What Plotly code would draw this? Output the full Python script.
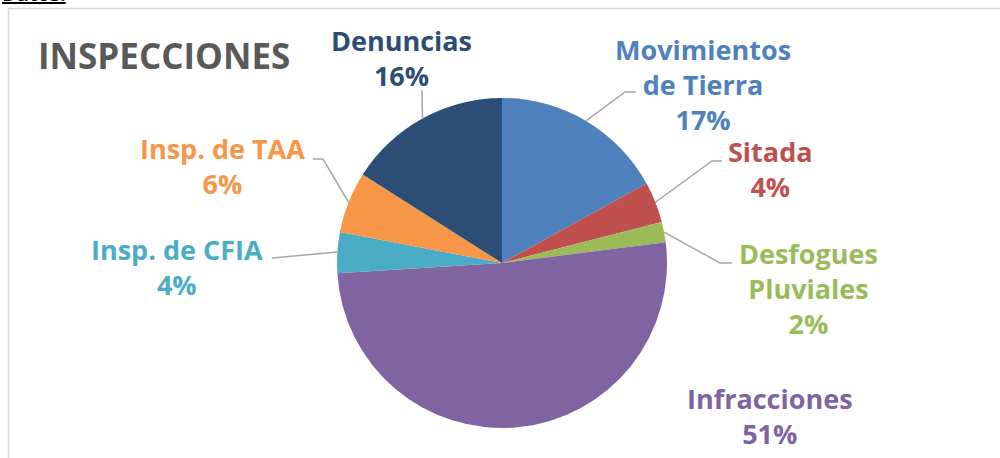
import math
import plotly.graph_objects as go

# ---- data ----
categories = ["Movimientos<br>de Tierra", "Sitada", "Desfogues<br>Pluviales",
              "Infracciones", "Insp. de CFIA", "Insp. de TAA", "Denuncias"]
values = [17, 4, 2, 51, 4, 6, 16]
colors = ["#4F81BD", "#C0504D", "#9BBB59", "#8064A2", "#4BACC6", "#F79646", "#2C4D75"]

# ---- layout constants (pixels) ----
W, H = 1000, 458
CX, CY, R = 502, 263, 165
# label centre positions
label_pos = [(703, 85), (770, 169), (808, 288), (770, 416), (177, 267), (222, 166), (401, 58)]
# leader elbow and end points (None = no leader)
leaders = [
    [(625, 92), (636, 92)],
    [(712, 161), (722, 161)],
    [(720, 263), (732, 263)],
    None,
    [(337, 252), (272, 258)],
    [(323, 159), (313, 159)],
    [(422, 90)],
]

def px(x, y):
    return x / W, 1 - y / H

fig = go.Figure()
fig.add_trace(go.Pie(
    labels=categories, values=values, sort=False, direction="clockwise", rotation=0,
    marker=dict(colors=colors, line=dict(width=0)),
    textinfo="none", hoverinfo="label+percent", showlegend=False,
    domain=dict(x=[(CX - R) / W, (CX + R) / W], y=[1 - (CY + R) / H, 1 - (CY - R) / H]),
))

total = sum(values)
shapes = []
annotations = []
cum = 0
for i, v in enumerate(values):
    mid = (cum + v / 2) / total * 2 * math.pi
    cum += v
    sx = CX + R * math.sin(mid)
    sy = CY - R * math.cos(mid)
    pct = round(v / total * 100)
    lx, ly = label_pos[i]
    annotations.append(dict(
        x=lx / W, y=1 - ly / H, xref="paper", yref="paper", showarrow=False,
        text=f"{categories[i]}<br>{pct}%", align="center",
        xanchor="center", yanchor="middle",
        font=dict(family="Open Sans", size=27, color=colors[i], weight="bold"),
    ))
    if leaders[i]:
        pts = [(sx, sy)] + leaders[i]
        path = "M " + " L ".join(f"{px(x, y)[0]:.5f},{px(x, y)[1]:.5f}" for x, y in pts)
        shapes.append(dict(type="path", path=path, xref="paper", yref="paper",
                           line=dict(color="#A6A6A6", width=1.5)))

# chart border
shapes.append(dict(type="rect", xref="paper", yref="paper",
                   x0=8.5 / W, x1=1.2, y0=-0.2, y1=1 - 8.5 / H,
                   line=dict(color="#D9D9D9", width=1.5)))

annotations.append(dict(
    x=36 / W, y=1 - 56 / H, xref="paper", yref="paper", showarrow=False,
    text="INSPECCIONES", xanchor="left", yanchor="middle",
    font=dict(family="Open Sans", size=35, color="#595959", weight="bold"),
))
annotations.append(dict(
    x=0, y=1, xref="paper", yref="paper", showarrow=False, yshift=-9,
    text="<u>Datos:</u>", xanchor="left", yanchor="bottom",
    font=dict(family="Open Sans", size=20, color="#000000", weight="bold"),
))

fig.update_layout(
    width=W, height=H, margin=dict(l=0, r=0, t=0, b=0),
    paper_bgcolor="white", plot_bgcolor="white",
    shapes=shapes, annotations=annotations,
)
fig.write_html("out.html", config={"displayModeBar": False},
               post_script="document.body.style.margin='0';document.body.style.overflow='hidden';")
